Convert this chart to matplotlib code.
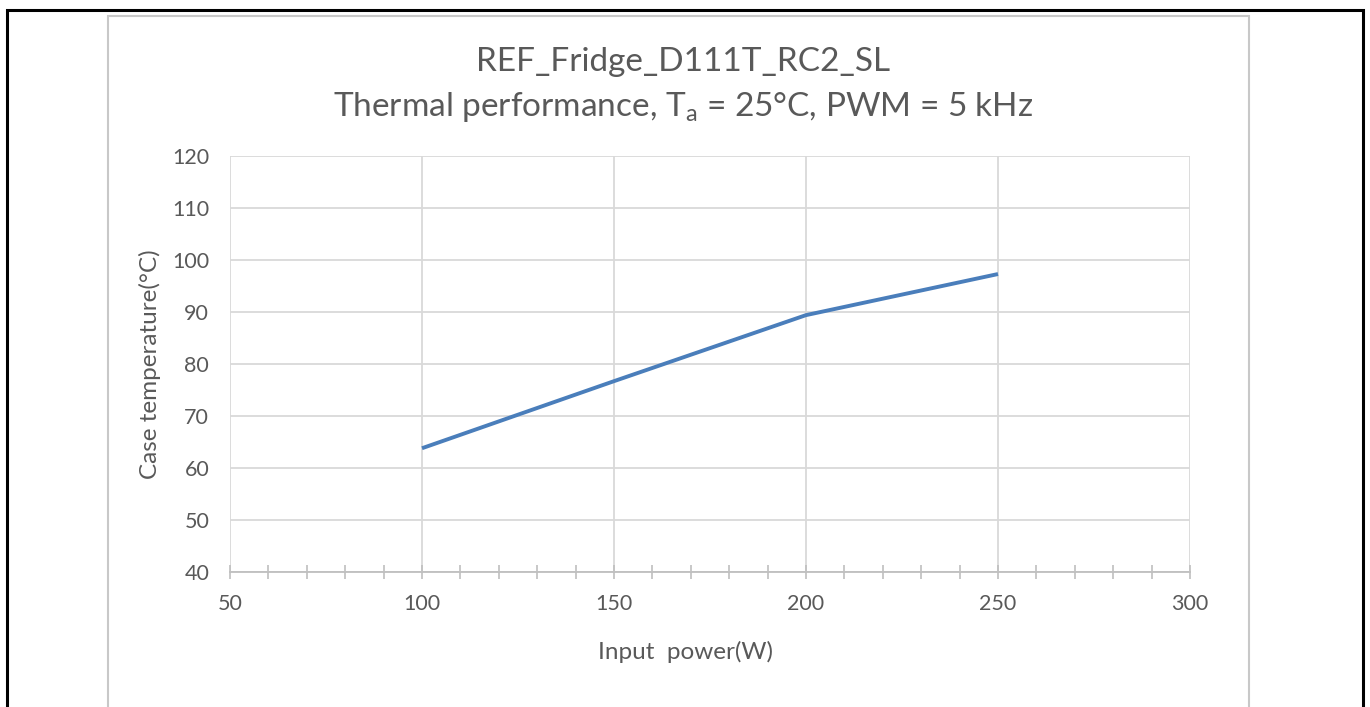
import matplotlib.pyplot as plt
from matplotlib.patches import Rectangle
from matplotlib.ticker import MultipleLocator

power = [100, 150, 200, 250]
case_temp = [63.8, 76.7, 89.4, 97.3]

plt.rcParams['font.family'] = ['Lato', 'DejaVu Sans']
plt.rcParams['mathtext.fontset'] = 'custom'
plt.rcParams['mathtext.rm'] = 'Lato'
plt.rcParams['mathtext.it'] = 'Lato'

txt = '#595959'
grid = '#d9d9d9'

fig = plt.figure(figsize=(13.7, 7.07), dpi=100)

# outer frames (black page border + grey chart border)
fig.patches.append(Rectangle((7 / 1370, -0.1), 1356 / 1370, 1.1 - 10 / 707, transform=fig.transFigure,
                             fill=False, edgecolor='black', linewidth=2.2))
fig.patches.append(Rectangle((108 / 1370, -0.1), 1141 / 1370, 1.1 - 16 / 707, transform=fig.transFigure,
                             fill=False, edgecolor='#c8c8c8', linewidth=1.5))

ax = fig.add_axes([230 / 1370, 1 - 572 / 707, 960 / 1370, 416 / 707])
ax.plot(power, case_temp, color='#4a7ebb', linewidth=2.8, solid_capstyle='butt')

ax.set_xlim(50, 300)
ax.set_ylim(40, 120)
ax.xaxis.set_major_locator(MultipleLocator(50))
ax.xaxis.set_minor_locator(MultipleLocator(10))
ax.yaxis.set_major_locator(MultipleLocator(10))
ax.grid(True, which='major', color=grid, linewidth=1.3)
ax.set_axisbelow(True)

for s in ['top', 'right', 'left']:
    ax.spines[s].set_visible(False)
ax.spines['bottom'].set_color('#bfbfbf')
ax.spines['bottom'].set_linewidth(1.3)

ax.tick_params(axis='x', which='both', direction='inout', length=10, width=1.2, color='#bfbfbf',
               labelsize=15.5, labelcolor=txt, pad=11)
ax.tick_params(axis='y', length=0, labelsize=15.5, labelcolor=txt, pad=15)

ax.set_xlabel('Input  power(W)', fontsize=17.5, color=txt, labelpad=19)
ax.xaxis.label.set_x(0.475)
ax.set_ylabel('Case temperature(°C)', fontsize=17.5, color=txt, labelpad=8)

fig.text(0.4985, 1 - 62 / 707, 'REF_Fridge_D111T_RC2_SL', ha='center', va='center', fontsize=24, color=txt)
fig.text(0.4985, 1 - 107 / 707, 'Thermal performance, T$_{\\mathrm{a}}$ = 25°C, PWM = 5 kHz',
         ha='center', va='center', fontsize=24, color=txt)

fig.savefig('out.png', dpi=100)
